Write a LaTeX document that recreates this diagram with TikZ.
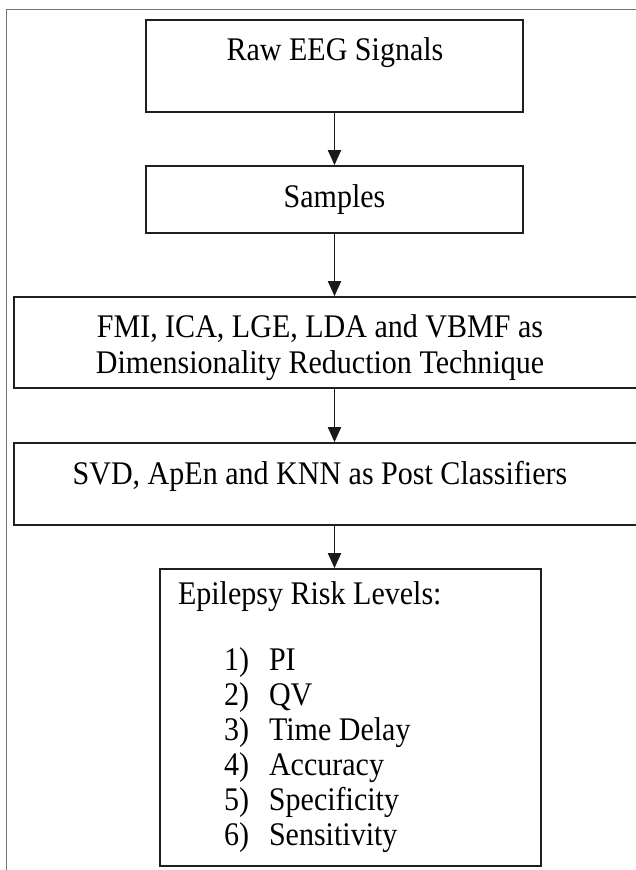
\documentclass[tikz,border=0pt]{standalone}
\usepackage{fontspec}
\setmainfont[FakeStretch=0.91]{Liberation Serif}
\usetikzlibrary{arrows.meta}
\tikzset{
  box/.style={draw=black!88, line width=1.7pt, rectangle, inner sep=0pt},
  txt/.style={font=\fontsize{33}{36}\selectfont, align=center, inner sep=0pt},
  arr/.style={-{Triangle[width=13pt,length=15pt]}, line width=1.9pt, draw=black!90},
  frame/.style={draw=black!55, line width=1pt}
}
\begin{document}
\begin{tikzpicture}[x=1pt,y=-1pt]
\useasboundingbox (0,0) rectangle (635,870);
% outer frame (partially visible)
\draw[frame] (6,870) -- (6,9) -- (640,9);
% boxes
\node[box, minimum width=377pt, minimum height=92pt] (b1) at (334.5,66) {};
\node[txt, anchor=base] (t1) at (335,60) {Raw EEG Signals};
\node[box, txt, draw=black!88, line width=1.7pt, minimum width=377pt, minimum height=67pt] (b2) at (334.5,199.5) {Samples};
\node[box, minimum width=646pt, minimum height=91pt] (b3) at (337,342.5) {};
\node[txt] (t3) at (320,348) {FMI, ICA, LGE, LDA and VBMF as\\Dimensionality Reduction Technique};
\node[box, minimum width=646pt, minimum height=82pt] (b4) at (337,484) {};
\node[txt, anchor=base] (t4) at (320,484) {SVD, ApEn and KNN as Post Classifiers};
\node[box, minimum width=381pt, minimum height=297pt, text width=345pt, inner xsep=18pt, align=left,
      font=\fontsize{33}{35}\selectfont] (b5) at (350.5,717.5)
  {\spaceskip=0pt\xspaceskip=0pt\relax
   \begin{tabular}{@{}l@{}}
   Epilepsy Risk Levels:\\[-4pt]
   \\
   \hspace*{46pt}1)\hspace{20pt}PI\\
   \hspace*{46pt}2)\hspace{20pt}QV\\
   \hspace*{46pt}3)\hspace{20pt}Time Delay\\
   \hspace*{46pt}4)\hspace{20pt}Accuracy\\
   \hspace*{46pt}5)\hspace{20pt}Specificity\\
   \hspace*{46pt}6)\hspace{20pt}Sensitivity
   \end{tabular}};
% connectors
\draw[arr] (b1.south) -- (b2.north);
\draw[arr] (b2.south) -- (b2.south |- b3.north);
\draw[arr] (b2.south |- b3.south) -- (b2.south |- b4.north);
\draw[arr] (b2.south |- b4.south) -- (b2.south |- b5.north);
\end{tikzpicture}
\end{document}
